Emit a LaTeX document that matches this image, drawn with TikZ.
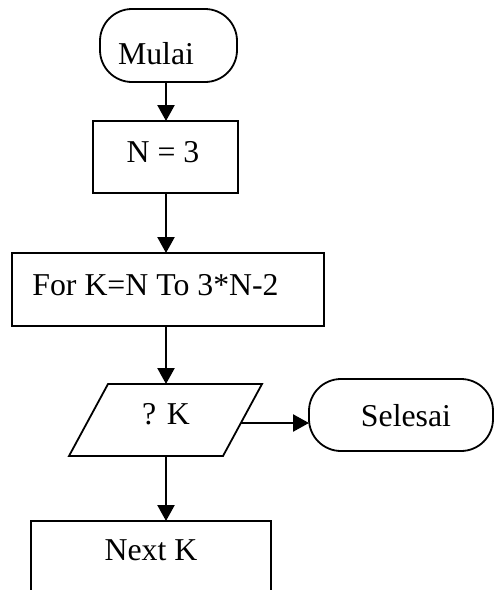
\documentclass[tikz,border=0pt]{standalone}
\usepackage{fontspec}
\setmainfont{Liberation Serif}
\usetikzlibrary{arrows.meta}
\begin{document}
\begin{tikzpicture}[x=0.5pt,y=-0.5pt,
  box/.style={draw=black,line width=0.9pt,inner sep=0pt,outer sep=0pt,rectangle},
  term/.style={box,rounded corners=16pt},
  io/.style={draw=black,line width=0.9pt,line join=miter},
  txt/.style={inner sep=0pt,anchor=base,font=\fontsize{15.9}{19}\selectfont},
  arr/.style={line width=1.2pt,-{Triangle[width=8.5pt,length=8pt]}}]
\clip (0,0) rectangle (494,590);
\useasboundingbox (0,0) rectangle (494,590);
% shapes
\node[term,minimum width=68.5pt,minimum height=36.5pt] (mulai) at (168.5,45.5) {};
\node[box,minimum width=72.5pt,minimum height=36pt] (n3) at (165.5,157) {};
\node[box,minimum width=156pt,minimum height=36.5pt] (for) at (168,289.5) {};
\coordinate (paraBL) at (69,456);
\coordinate (paraTL) at (108,384);
\coordinate (paraTR) at (262,384);
\coordinate (paraBR) at (223,456);
\draw[io] (paraBL) -- (paraTL) -- (paraTR) -- (paraBR) -- cycle;
\coordinate (paraN) at (166,384);
\coordinate (paraS) at (166,456);
\coordinate (paraE) at (240.5,423);
\node[term,minimum width=92pt,minimum height=36pt] (sel) at (401,415) {};
\node[box,minimum width=120pt,minimum height=50pt] (next) at (151,571) {};
% texts
\node[txt] (mulaiT) at (156,64) {Mulai};
\node[txt] (n3T) at (163,162) {N = 3};
\node[txt,anchor=base west] (forT) at (32,295) {For K=N To 3*N-2};
\node[txt] (paraT) at (166,424) {? K};
\node[txt] (selT) at (406,426) {Selesai};
\node[txt] (nextT) at (151,560) {Next K};
% connectors
\coordinate (ax) at (166,0);
\draw[arr] (mulai.south -| ax) -- (n3.north -| ax);
\draw[arr] (n3.south -| ax) -- (for.north -| ax);
\draw[arr] (for.south -| ax) -- (paraN);
\draw[arr] (paraS) -- (next.north -| ax);
\draw[arr] (paraE) -- (paraE -| sel.west);
\end{tikzpicture}
\end{document}
